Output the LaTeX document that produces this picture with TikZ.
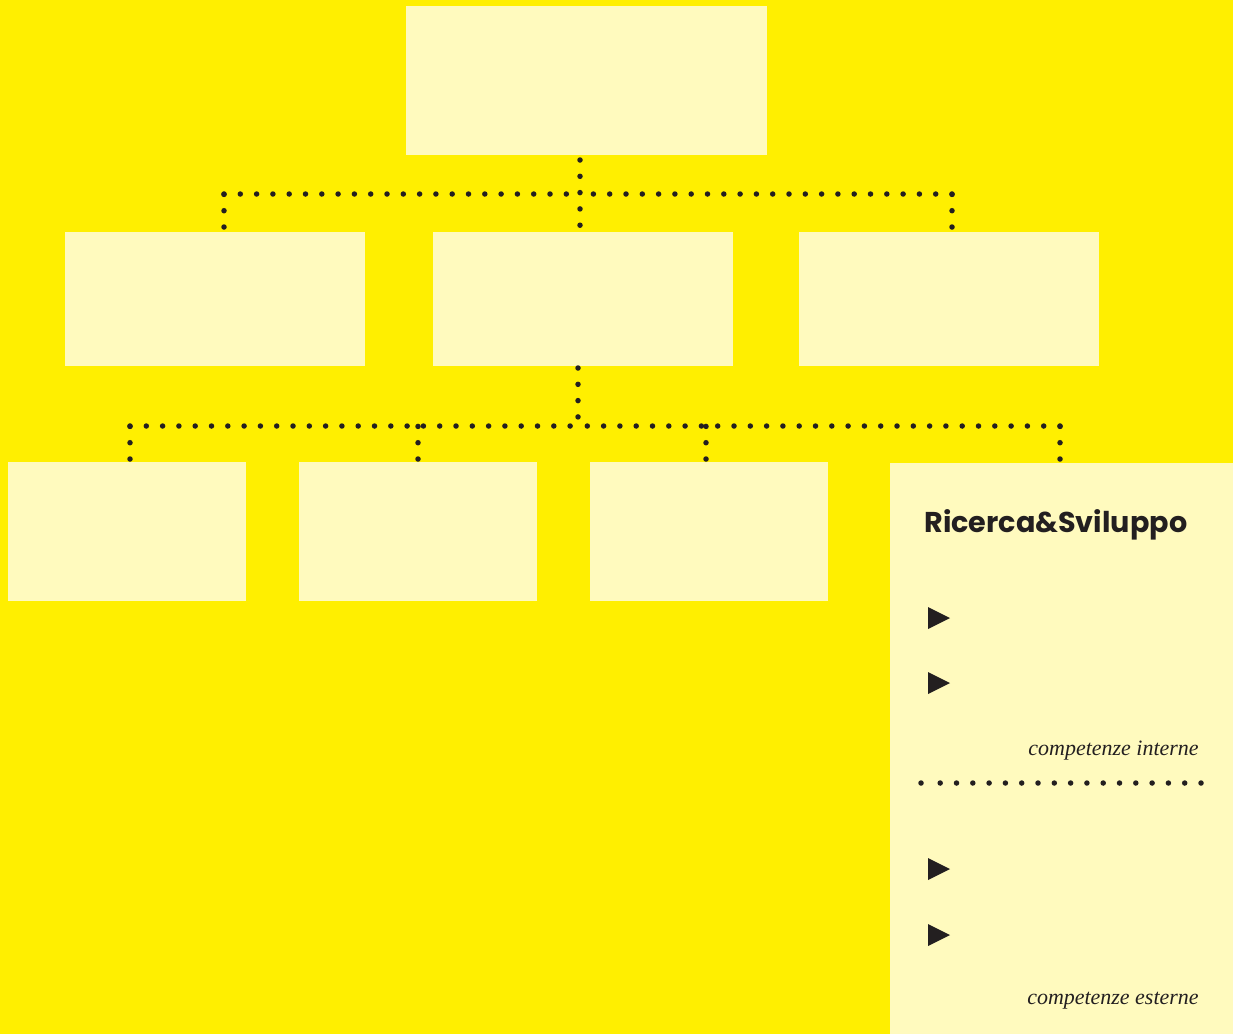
\documentclass[tikz,border=0pt]{standalone}
\usepackage{fontspec}
\newfontfamily\titlefont{Poppins}
\newfontfamily\notefont{Liberation Serif}
\usetikzlibrary{positioning}
\definecolor{bgyellow}{HTML}{FFEF00}
\definecolor{paleyellow}{HTML}{FFFABE}
\definecolor{inkdark}{HTML}{231F20}
\tikzset{
  box/.style={fill=paleyellow, inner sep=0pt, anchor=north west},
  dots/.style={inkdark, line width=1.1mm, line cap=round, dash pattern=on 0pt off 3.26mm},
  bullet/.style={fill=inkdark},
  note/.style={font=\notefont\itshape\fontsize{12.5}{14}\selectfont, text=inkdark, anchor=base east, inner sep=0pt},
}

\begin{document}
\begin{tikzpicture}[x=0.2mm, y=-0.2mm]
  % Background
  \useasboundingbox (0,0) rectangle (1233,1034);
  \fill[bgyellow] (0,0) rectangle (1233,1034);

  % Boxes
  \node[box, minimum width=72.2mm, minimum height=29.8mm] (top) at (406,6) {};
  \node[box, minimum width=60mm, minimum height=26.8mm] (left) at (65,232) {};
  \node[box, minimum width=60mm, minimum height=26.8mm] (mid) at (433,232) {};
  \node[box, minimum width=60mm, minimum height=26.8mm] (right) at (799,232) {};
  \node[box, minimum width=47.6mm, minimum height=27.8mm] (unitA) at (8,462) {};
  \node[box, minimum width=47.6mm, minimum height=27.8mm] (unitB) at (299,462) {};
  \node[box, minimum width=47.6mm, minimum height=27.8mm] (unitC) at (590,462) {};
  \node[box, minimum width=68.6mm, minimum height=114.2mm] (rs) at (890,463) {};

  % First level connectors
  \coordinate (s1) at (580,160);
  \coordinate (j1) at (580,194);
  \coordinate (e1) at (580,226);
  \coordinate (b1l) at (224,194);
  \coordinate (b1r) at (952,194);
  \draw[dots] (s1) -- (e1);
  \draw[dots] (b1l) -- (j1);
  \draw[dots] (b1r) -- (j1);
  \draw[dots] (224,227) -- (b1l);
  \draw[dots] (952,227) -- (b1r);

  % Second level connectors
  \coordinate (s2) at (578,368);
  \coordinate (j2) at (578,426);
  \coordinate (b2l) at (130,426);
  \coordinate (b2r) at (1060,426);
  \draw[dots] (s2) -- (j2);
  \draw[dots] (b2l) -- (j2);
  \draw[dots] (b2r) -- (j2);
  \foreach \xd in {130,418,706,1060}
    \draw[dots] (\xd,459) -- (\xd,426);

  % Ricerca & Sviluppo panel
  \node[anchor=base west, inner sep=0pt, text=inkdark,
        font=\titlefont\bfseries\fontsize{16.3}{20}\selectfont] (rstitle) at (924,532) {Ricerca\&Sviluppo};
  \foreach \yt in {607,672,858,924}
    \fill[bullet] (928,\yt) -- (950,\yt+11) -- (928,\yt+22) -- cycle;
  \node[note] (intern) at (1199,755) {competenze interne};
  \node[note] (extern) at (1199,1004) {competenze esterne};
  \coordinate (sepl) at (921,783);
  \coordinate (sepr) at (1201,783);
  \draw[dots] (sepr) -- (934,783);
  \fill[inkdark] (sepl) circle (0.55mm);
\end{tikzpicture}
\end{document}
